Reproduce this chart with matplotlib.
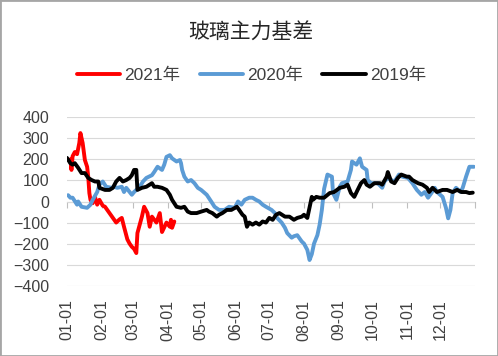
import pandas as pd
import matplotlib.pyplot as plt
import matplotlib.dates as mdates
from matplotlib.patches import Rectangle

plt.rcParams['font.family'] = ['Liberation Sans', 'Noto Sans CJK SC', 'DejaVu Sans']

# 2021 basis (red)
dates_2021 = ["01-04", "01-05", "01-06", "01-08", "01-10", "01-12", "01-13", "01-15", "01-17",
              "01-19", "01-20", "01-21", "01-22", "01-24", "01-26", "01-28", "01-30", "02-02",
              "02-04", "02-06", "02-10", "02-14", "02-17", "02-19", "02-21", "02-24", "02-26",
              "02-28", "03-02", "03-04", "03-05", "03-09", "03-11", "03-14", "03-16", "03-18",
              "03-22", "03-25", "03-27", "03-31", "04-03", "04-04", "04-05", "04-07"]
vals_2021 = [200, 150, 215, 235, 225, 278, 325, 278, 197,
             165, 118, 40, 8, -8, 22, -15, 8, -20,
             -25, -40, -70, -100, -85, -78, -120, -180, -200,
             -215, -225, -245, -150, -72, -25, -55, -120, -72,
             -100, -55, -145, -100, -120, -87, -125, -95]

# 2020 basis (blue)
dates_2020 = ["01-02", "01-04", "01-06", "01-10", "01-11", "01-14", "01-19", "01-22", "01-24",
              "01-28", "01-30", "02-02", "02-05", "02-10", "02-12", "02-15", "02-19", "02-21",
              "02-23", "02-28", "03-02", "03-07", "03-10", "03-13", "03-18", "03-20", "03-23",
              "03-27", "03-29", "03-31", "04-03", "04-05", "04-09", "04-12", "04-13", "04-14",
              "04-16", "04-19", "04-22", "04-25", "04-28", "05-01", "05-06", "05-10", "05-13",
              "05-17", "05-22", "05-26", "05-31", "06-03", "06-06", "06-09", "06-13", "06-16",
              "06-19", "06-22", "06-25", "06-28", "07-03", "07-06", "07-08", "07-12", "07-15",
              "07-17", "07-21", "07-23", "07-26", "07-30", "08-01", "08-04", "08-06", "08-08",
              "08-10", "08-13", "08-15", "08-17", "08-19", "08-22", "08-26", "08-27", "08-30",
              "09-02", "09-04", "09-09", "09-12", "09-13", "09-17", "09-20", "09-22", "09-26",
              "09-27", "09-30", "10-06", "10-10", "10-12", "10-15", "10-18", "10-21", "10-25",
              "10-28", "11-02", "11-06", "11-10", "11-14", "11-17", "11-20", "11-23", "11-26",
              "11-28", "12-03", "12-06", "12-08", "12-10", "12-12", "12-15", "12-19", "12-21",
              "12-24", "12-27", "12-31"]
vals_2020 = [30, 18, 18, -15, 0, -25, -30, -15, 8,
             45, 80, 95, 70, 65, 70, 65, 70, 45,
             65, 32, 45, 70, 95, 112, 125, 140, 165,
             150, 175, 212, 220, 205, 190, 197, 182, 150,
             118, 95, 102, 87, 65, 55, 32, 0, -25,
             -40, -40, -25, -30, 0, -15, 8, 18, 18,
             8, 0, -15, -25, -40, -55, -78, -100, -125,
             -150, -172, -165, -160, -190, -200, -230, -278, -250,
             -200, -160, -110, -40, 60, 128, 118, 40, 8,
             70, 87, 95, 150, 190, 175, 205, 165, 150,
             102, 87, 87, 65, 95, 112, 102, 95, 128,
             118, 112, 87, 55, 32, 45, 18, 40, 65,
             45, 22, -30, -80, -40, 40, 65, 45, 65,
             118, 165, 165]

# 2019 basis (black)
dates_2019 = ["01-01", "01-04", "01-06", "01-08", "01-11", "01-14", "01-17", "01-20", "01-23",
              "01-26", "01-29", "01-30", "02-04", "02-08", "02-11", "02-14", "02-17", "02-20",
              "02-23", "02-26", "02-28", "03-02", "03-04", "03-05", "03-09", "03-13", "03-18",
              "03-20", "03-23", "03-27", "03-31", "04-03", "04-05", "04-09", "04-13", "04-16",
              "04-19", "04-22", "04-27", "05-01", "05-06", "05-08", "05-11", "05-15", "05-17",
              "05-20", "05-24", "05-28", "06-02", "06-04", "06-07", "06-09", "06-11", "06-13",
              "06-16", "06-19", "06-22", "06-25", "06-28", "07-01", "07-04", "07-07", "07-10",
              "07-15", "07-19", "07-23", "07-26", "07-30", "08-01", "08-04", "08-08", "08-09",
              "08-12", "08-15", "08-19", "08-24", "08-28", "09-02", "09-06", "09-09", "09-12",
              "09-15", "09-18", "09-21", "09-24", "09-26", "09-29", "10-03", "10-08", "10-10",
              "10-14", "10-15", "10-18", "10-21", "10-24", "10-27", "11-01", "11-03", "11-06",
              "11-11", "11-15", "11-19", "11-21", "11-24", "11-28", "12-03", "12-07", "12-12",
              "12-16", "12-20", "12-24", "12-27", "12-30"]
vals_2019 = [207, 182, 175, 182, 160, 135, 135, 112, 102,
             95, 95, 65, 55, 55, 65, 95, 112, 95,
             102, 112, 125, 150, 150, 55, 65, 70, 87,
             70, 70, 65, 55, 32, 8, -25, -30, -25,
             -48, -55, -55, -48, -40, -48, -55, -72, -63,
             -55, -40, -40, -25, -40, -63, -72, -120, -100,
             -110, -100, -110, -95, -100, -78, -87, -63, -55,
             -72, -72, -87, -78, -72, -63, -78, 22, 8,
             22, 18, 18, 40, 45, 65, 70, 80, 40,
             22, 55, 87, 102, 80, 70, 87, 87, 80,
             118, 140, 95, 87, 112, 128, 118, 118, 102,
             87, 80, 65, 45, 65, 45, 55, 55, 45,
             55, 45, 45, 40, 42]

series = [
    ("2021年", dates_2021, vals_2021, "#FF0000"),
    ("2020年", dates_2020, vals_2020, "#5B9BD5"),
    ("2019年", dates_2019, vals_2019, "#000000"),
]
y_ticks = [400, 300, 200, 100, 0, -100, -200, -300, -400]


def to_dates(mmdd):
    return pd.to_datetime(["2021-" + d for d in mmdd])


fig = plt.figure(figsize=(4.98, 3.56), dpi=100)
ax = fig.add_axes([67 / 498, 1 - 285.7 / 356, 408 / 498, 168.4 / 356])

for name, d, v, c in series:
    ax.plot(to_dates(d), v, color=c, lw=2.8, label=name, solid_capstyle='round',
            solid_joinstyle='round')

text_color = "#404040"
ax.set_ylim(-400, 400)
ax.set_yticks(y_ticks)
ax.grid(axis='y', color='#D9D9D9', lw=0.8)
ax.set_axisbelow(True)
ax.tick_params(axis='y', length=0, pad=13, labelsize=11.5, labelcolor=text_color)

start = pd.Timestamp("2021-01-01")
end = pd.Timestamp("2022-01-01")
month_starts = pd.date_range(start, periods=12, freq="MS")
ax.set_xlim(start, end)
ax.set_xticks(month_starts)
ax.xaxis.set_major_formatter(mdates.DateFormatter("%m-%d"))
ax.tick_params(axis='x', length=0, pad=10, labelsize=11.5, labelcolor=text_color,
               labelrotation=90)
for s in ax.spines.values():
    s.set_visible(False)

# axis line through zero with month tick marks
zax = ax.secondary_xaxis(0, transform=ax.transData)
zax.set_xticks(list(month_starts) + [end])
zax.tick_params(length=4, color='#BFBFBF', labelbottom=False, width=0.8)
zax.spines['bottom'].set_color('#BFBFBF')
zax.spines['bottom'].set_linewidth(0.8)

fig.text(0.503, 0.907, "玻璃主力基差", ha='center', va='center', fontsize=15,
         color='#262626', family=['Noto Sans CJK SC'])
fig.legend(loc='center', bbox_to_anchor=(0.505, 0.789), ncol=3, frameon=False,
           fontsize=12.5, handlelength=2.5, handletextpad=0.25, columnspacing=1.1,
           labelcolor=text_color)

fig.patches.append(Rectangle((0, 0), 1, 1, transform=fig.transFigure, fill=False,
                             edgecolor='#A6A6A6', lw=2))

fig.savefig("out.png", dpi=100)
